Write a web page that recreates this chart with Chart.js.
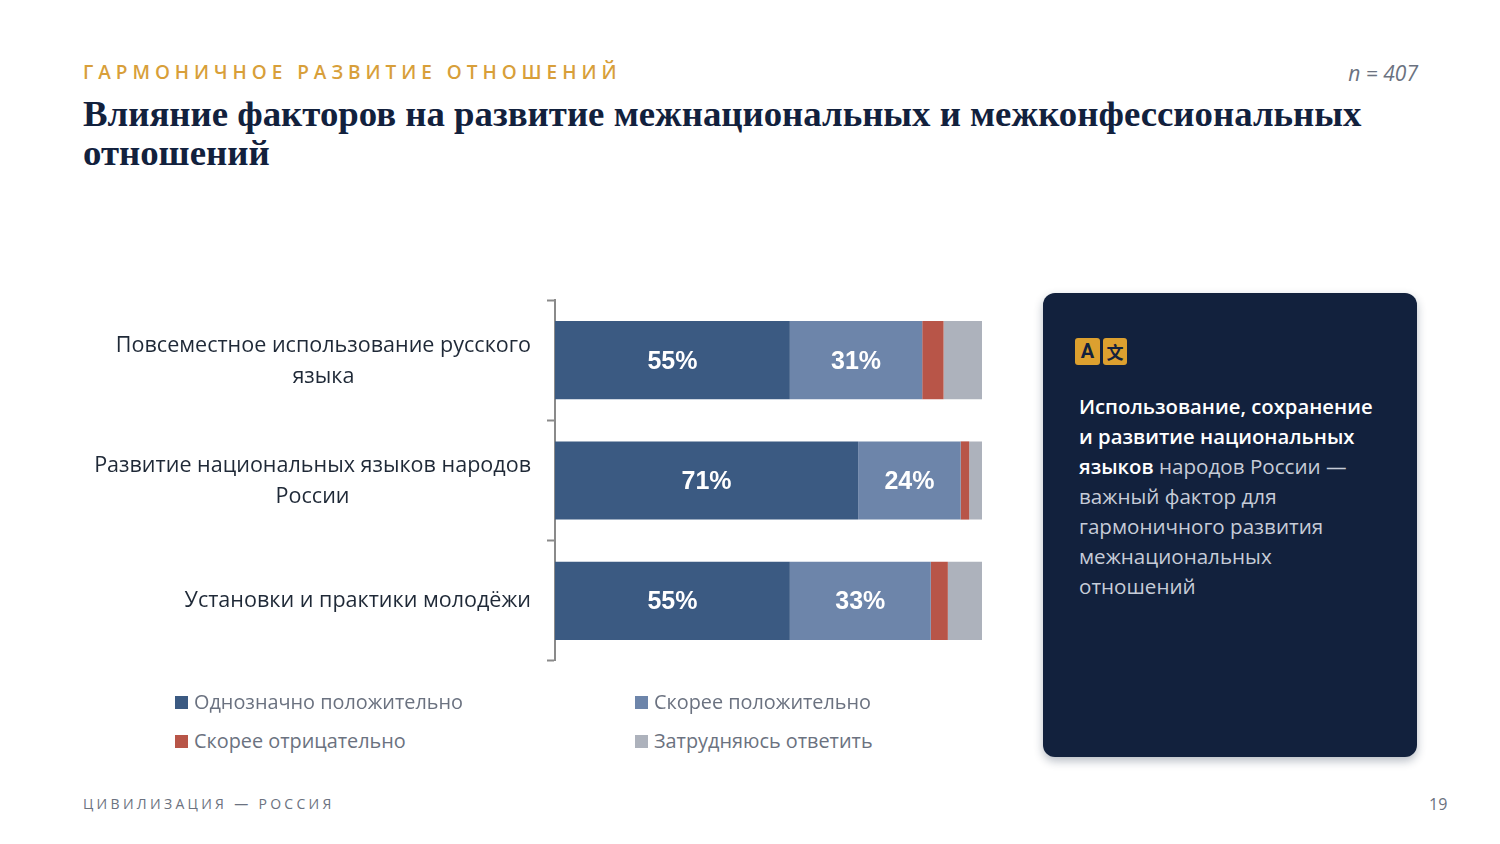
<!DOCTYPE html>
<html lang="ru"><head><meta charset="utf-8">
<script src="https://cdn.jsdelivr.net/npm/chart.js@4/dist/chart.umd.min.js"></script>
<style>
html,body{margin:0;padding:0;background:#fff;width:1500px;height:844px;overflow:hidden;font-family:"Open Sans",sans-serif}
.a{position:absolute;white-space:nowrap}
#kicker{left:83px;top:59px;font-size:19px;line-height:26px;font-weight:600;letter-spacing:4.97px;color:#d89f3a}
#title{left:83px;top:94px;font-family:"Liberation Serif",serif;font-weight:700;font-size:36.8px;line-height:39px;color:#12213d}
#n{right:82px;top:59px;font-size:21px;line-height:28px;font-style:italic;color:#6b7280}
#foot{left:83px;top:794px;font-size:14px;line-height:20px;letter-spacing:3.3px;color:#6b7280}
#page{left:1429px;top:794px;font-size:16px;line-height:20px;color:#6b7280}
#card{position:absolute;left:1043px;top:293px;width:374px;height:464px;border-radius:12px;background:#12213d;box-shadow:0 4px 10px rgba(18,33,61,.3)}
.ic{position:absolute;top:45px;height:27px;border-radius:3px;background:#dca02f;color:#12213d;font-weight:700;text-align:center;line-height:27px}
#txt{left:36px;top:98px;font-size:20.6px;line-height:30px;color:#c6ccd8}
#txt b{color:#fff;font-weight:600;font-size:20.3px}
#c{position:absolute;left:0;top:0}
.lg{position:absolute;font-size:19.85px;line-height:26px;color:#6b7280;white-space:nowrap}
.lg i{position:absolute;left:-19px;top:7px;width:13px;height:13px}
</style></head><body>
<div class="a" id="kicker">ГАРМОНИЧНОЕ РАЗВИТИЕ ОТНОШЕНИЙ</div>
<div class="a" id="title">Влияние факторов на развитие межнациональных и межконфессиональных<br>отношений</div>
<div class="a" id="n">n = 407</div>
<canvas id="c" width="1000" height="708" style="width:1000px;height:708px"></canvas>
<div id="legend"></div>
<div id="card">
<div class="ic" style="left:32px;width:25px;font-family:Roboto;font-size:20px">A</div>
<div class="ic" style="left:60px;width:24px;font-family:'Noto Sans CJK SC';font-size:17px">文</div>
<div class="a" id="txt"><b>Использование, сохранение<br>и развитие национальных<br>языков</b> народов России —<br>важный фактор для<br>гармоничного развития<br>межнациональных<br>отношений</div>
</div>
<div class="a" id="foot">ЦИВИЛИЗАЦИЯ — РОССИЯ</div>
<div class="a" id="page">19</div>
<script>
const categories = [
  ["Повсеместное использование русского", "языка"],
  ["Развитие национальных языков народов", "России"],
  "Установки и практики молодёжи"
];
const definitelyPositive = [55, 71, 55];
const ratherPositive = [31, 24, 33];
const ratherNegative = [5, 2, 4];
const hardToSay = [9, 3, 8];
const seriesNames = ["Однозначно положительно", "Скорее положительно", "Скорее отрицательно", "Затрудняюсь ответить"];
const seriesColors = ["#3b5a82", "#6d85aa", "#b85548", "#adb2bc"];
const seriesValues = [definitelyPositive, ratherPositive, ratherNegative, hardToSay];

const valueLabels = {
  id: "valueLabels",
  afterDatasetsDraw(chart) {
    const ctx = chart.ctx;
    ctx.save();
    ctx.font = "700 25px 'Liberation Sans'";
    ctx.fillStyle = "#fff";
    ctx.textAlign = "center";
    ctx.textBaseline = "middle";
    chart.data.datasets.forEach((ds, i) => {
      chart.getDatasetMeta(i).data.forEach((bar, j) => {
        if (ds.data[j] >= 10) {
          const p = bar.getCenterPoint();
          ctx.fillText(ds.data[j] + "%", p.x, p.y + 1.5);
        }
      });
    });
    ctx.restore();
  }
};

// Centre every line of a wrapped tick label inside its own right-aligned block
function centerTickLines(scale) {
  const base = Object.getPrototypeOf(scale).getLabelItems;
  scale.getLabelItems = function (area) {
    return base.call(this, area).flatMap(it => {
      if (!Array.isArray(it.label)) return [it];
      const ctx = this.ctx;
      ctx.save();
      ctx.font = it.font.string;
      const w = Math.max(...it.label.map(l => ctx.measureText(l).width));
      ctx.restore();
      const [x, y] = it.options.translation;
      return it.label.map((line, k) => ({
        ...it, label: line, textOffset: it.textOffset + k * it.font.lineHeight + 1,
        options: { ...it.options, textAlign: "center", translation: [x - w / 2, y] }
      }));
    });
  };
}

new Chart(document.getElementById("c"), {
  type: "bar",
  data: {
    labels: categories,
    datasets: seriesNames.map((name, i) => ({
      label: name,
      data: seriesValues[i],
      backgroundColor: seriesColors[i],
      borderWidth: 0,
      categoryPercentage: 1,
      barPercentage: 0.65
    }))
  },
  options: {
    indexAxis: "y",
    responsive: false,
    animation: false,
    layout: { padding: { left: 0, right: 18, top: 300, bottom: 32 } },
    plugins: { legend: { display: false }, tooltip: { enabled: false } },
    scales: {
      x: { stacked: true, min: 0, max: 100, display: false },
      y: {
        stacked: true,
        afterFit(s) { s.width = 555; },
        afterUpdate: centerTickLines,
        border: { display: true, color: "#8a8a8a", width: 2 },
        grid: { offset: true, drawOnChartArea: false, drawTicks: true, tickLength: 8, tickWidth: 2, tickColor: "#8a8a8a" },
        ticks: { padding: 16, color: "#1f2937", font: { family: "'Open Sans'", size: 21.55, lineHeight: 1.44 } }
      }
    }
  },
  plugins: [valueLabels]
});

const legendX = [194, 654], legendY = [689, 728];
const legendBox = document.getElementById("legend");
seriesNames.forEach((name, i) => {
  const d = document.createElement("div");
  d.className = "lg";
  d.style.left = legendX[i % 2] + "px";
  d.style.top = legendY[Math.floor(i / 2)] + "px";
  d.innerHTML = '<i style="background:' + seriesColors[i] + '"></i>' + name;
  legendBox.appendChild(d);
});
</script>
</body></html>
